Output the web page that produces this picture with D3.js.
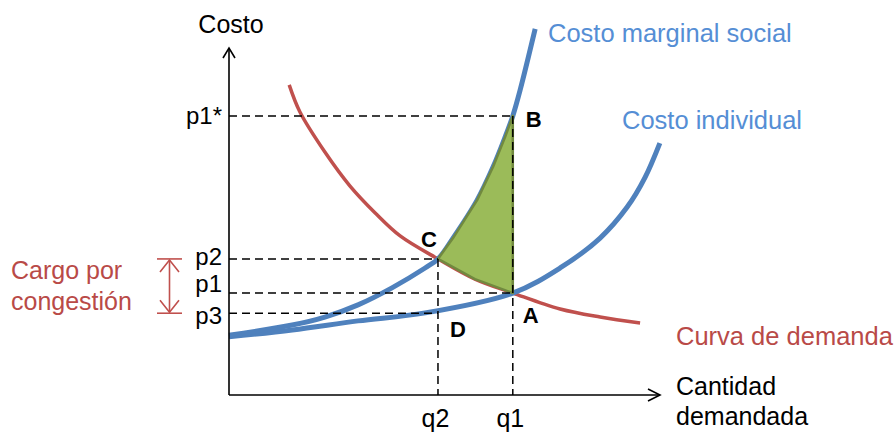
<!DOCTYPE html>
<html>
<head>
<meta charset="utf-8">
<script src="https://cdn.jsdelivr.net/npm/d3@7"></script>
<style>
  body { margin: 0; background: #fff; }
  text { font-family: "Liberation Sans", Arial, sans-serif; }
</style>
</head>
<body>
<script>
// Chart values (arbitrary units, cantidad 0-100, costo 0-100)
var costoMarginalSocial = [
  [0, 17.2], [14.7, 20.1], [22.3, 22.4], [30.0, 25.9], [37.9, 30.8], [45.6, 36.5],
  [48.6, 39.1], [52.1, 45.1], [57.7, 56.0], [61.4, 65.5], [64.2, 74.1], [66.0, 80.2],
  [67.7, 87.6], [71.2, 105.2]
];
var costoIndividual = [
  [0, 16.7], [14.7, 18.7], [30.0, 21.3], [45.6, 23.6], [66.0, 29.3], [77.0, 36.5],
  [86.3, 45.1], [92.6, 54.0], [96.7, 62.4], [100.2, 72.4]
];
var curvaDemanda = [
  [14.0, 89.1], [16.5, 81.3], [22.3, 69.8], [28.1, 60.1], [34.0, 52.3], [39.8, 45.7],
  [48.6, 39.1], [57.2, 33.3], [66.0, 29.3], [77.0, 24.7], [86.3, 22.4], [95.6, 20.7]
];

var qLabels = ["q2", "q1"];
var qValues = [48.6, 66.0];
var pLabels = ["p1*", "p2", "p1", "p3"];
var pValues = [80.2, 39.1, 29.3, 23.5];

// points: label, q, p
var puntos = [
  { name: "B", q: 66.0, p: 80.2 },
  { name: "C", q: 48.6, p: 39.1 },
  { name: "A", q: 66.0, p: 29.3 },
  { name: "D", q: 48.6, p: 23.5 }
];

var svgWidth = 896;
var svgHeight = 436;

var svg = d3.select("body")
            .append("svg")
            .attr("width", svgWidth)
            .attr("height", svgHeight);

var x = d3.scaleLinear().domain([0, 100]).range([229, 659]);
var y = d3.scaleLinear().domain([0, 100]).range([395, 47]);

var blue = "#4F81BD";
var blueText = "#558ED5";
var red = "#C0504D";

var line = d3.line()
             .x(function(d) { return x(d[0]); })
             .y(function(d) { return y(d[1]); })
             .curve(d3.curveCatmullRom.alpha(0.5));

// curves
svg.append("path")
   .attr("d", line(curvaDemanda))
   .attr("fill", "none")
   .attr("stroke", red)
   .attr("stroke-width", 3.5);

svg.append("path")
   .attr("d", line(costoIndividual))
   .attr("fill", "none")
   .attr("stroke", blue)
   .attr("stroke-width", 5);

svg.append("path")
   .attr("d", line(costoMarginalSocial))
   .attr("fill", "none")
   .attr("stroke", blue)
   .attr("stroke-width", 5);

// deadweight loss triangle C-B-A
var q2 = qValues[0], q1 = qValues[1];
var zona = [];
costoMarginalSocial.forEach(function(d) { if (d[0] >= q2 && d[0] <= q1) zona.push(d); });
zona.push([q1, pValues[2]]);
curvaDemanda.slice().reverse().forEach(function(d) { if (d[0] > q2 && d[0] < q1) zona.push(d); });

svg.append("path")
   .attr("d", d3.line().x(function(d) { return x(d[0]); }).y(function(d) { return y(d[1]); })(zona) + "Z")
   .attr("fill", "#9BBB59")
   .attr("stroke", "#71893F")
   .attr("stroke-width", 2.5)
   .attr("stroke-linejoin", "round");

// dashed guides
var guias = svg.append("g")
               .attr("stroke", "#000")
               .attr("stroke-width", 1.5)
               .attr("stroke-dasharray", "8,5");

puntos.forEach(function(d) {
  guias.append("line")
       .attr("x1", x(0)).attr("x2", x(d.q))
       .attr("y1", y(d.p)).attr("y2", y(d.p));
});
guias.append("line")
     .attr("x1", x(q2)).attr("x2", x(q2))
     .attr("y1", y(pValues[1])).attr("y2", y(0));
guias.append("line")
     .attr("x1", x(q1)).attr("x2", x(q1))
     .attr("y1", y(pValues[0])).attr("y2", y(0));

// axes
var labelShift = { "p1*": 0, "p2": -2, "p1": -9.5, "p3": 2 };

var yAxis = svg.append("g")
               .attr("transform", "translate(" + x(0) + ",0)")
               .call(d3.axisLeft(y)
                       .tickValues(pValues)
                       .tickFormat(function(d, i) { return pLabels[i]; })
                       .tickSize(0)
                       .tickSizeOuter(0)
                       .tickPadding(7));
yAxis.select(".domain").remove();
yAxis.selectAll("text")
     .style("font-size", "24px")
     .attr("fill", "#000")
     .attr("dy", function(d, i) { return (8 + labelShift[pLabels[i]]) + "px"; });

var xAxis = svg.append("g")
               .attr("transform", "translate(0," + y(0) + ")")
               .call(d3.axisBottom(x)
                       .tickValues(qValues)
                       .tickFormat(function(d, i) { return qLabels[i]; })
                       .tickSize(0)
                       .tickSizeOuter(0)
                       .tickPadding(14));
xAxis.select(".domain").remove();
xAxis.selectAll("text")
     .style("font-size", "25px")
     .attr("fill", "#000")
     .attr("dx", "-3px");

var ejes = svg.append("g")
              .attr("stroke", "#000")
              .attr("stroke-width", 1.6)
              .attr("fill", "none");
ejes.append("line").attr("x1", x(0)).attr("x2", x(0)).attr("y1", y(0)).attr("y2", y(100) + 1);
ejes.append("line").attr("x1", x(0)).attr("x2", x(100) + 1).attr("y1", y(0)).attr("y2", y(0));
ejes.append("path")
    .attr("d", "M" + (x(0) - 6) + "," + (y(100) + 11) + "L" + x(0) + "," + (y(100) + 1) + "L" + (x(0) + 6) + "," + (y(100) + 11));
ejes.append("path")
    .attr("d", "M" + (x(100) - 11) + "," + (y(0) - 6) + "L" + (x(100) + 1) + "," + y(0) + "L" + (x(100) - 11) + "," + (y(0) + 6));

// axis titles
svg.append("text")
   .attr("x", x(0) + 2).attr("y", 33)
   .attr("text-anchor", "middle")
   .style("font-size", "25px")
   .text("Costo");

svg.append("text")
   .attr("x", 676).attr("y", 395)
   .style("font-size", "25px")
   .text("Cantidad");
svg.append("text")
   .attr("x", 676).attr("y", 425)
   .style("font-size", "25px")
   .text("demandada");

// curve labels
svg.append("text")
   .attr("x", 548).attr("y", 42)
   .attr("fill", blueText)
   .style("font-size", "25.5px")
   .text("Costo marginal social");
svg.append("text")
   .attr("x", 622).attr("y", 129)
   .attr("fill", blueText)
   .style("font-size", "25.5px")
   .text("Costo individual");
svg.append("text")
   .attr("x", 676).attr("y", 345)
   .attr("fill", "#B94A47")
   .style("font-size", "25.5px")
   .text("Curva de demanda");

// point letters
var letraPos = { B: [13, 11], C: [-17, -12], A: [10, 30], D: [12, 24] };
svg.selectAll(".letra")
   .data(puntos)
   .enter()
   .append("text")
   .attr("x", function(d) { return x(d.q) + letraPos[d.name][0]; })
   .attr("y", function(d) { return y(d.p) + letraPos[d.name][1]; })
   .style("font-size", "22px")
   .style("font-weight", "bold")
   .text(function(d) { return d.name; });

// congestion charge bracket
var yTop = y(pValues[1]), yBot = y(pValues[3]);
var cargo = svg.append("g")
               .attr("stroke", red)
               .attr("stroke-width", 1.6)
               .attr("fill", "none");
cargo.append("line").attr("x1", 157).attr("x2", 182).attr("y1", yTop).attr("y2", yTop);
cargo.append("line").attr("x1", 157).attr("x2", 182).attr("y1", yBot).attr("y2", yBot);
cargo.append("line").attr("x1", 169.5).attr("x2", 169.5).attr("y1", yTop + 1).attr("y2", yBot - 1);
cargo.append("path").attr("d", "M160," + (yTop + 13) + "L169.5," + (yTop + 1) + "L179," + (yTop + 13));
cargo.append("path").attr("d", "M160," + (yBot - 13) + "L169.5," + (yBot - 1) + "L179," + (yBot - 13));

svg.append("text")
   .attr("x", 11).attr("y", 279)
   .attr("fill", "#B94A47")
   .style("font-size", "25px")
   .text("Cargo por");
svg.append("text")
   .attr("x", 11).attr("y", 310)
   .attr("fill", "#B94A47")
   .style("font-size", "25px")
   .text("congestión");
</script>
</body>
</html>
